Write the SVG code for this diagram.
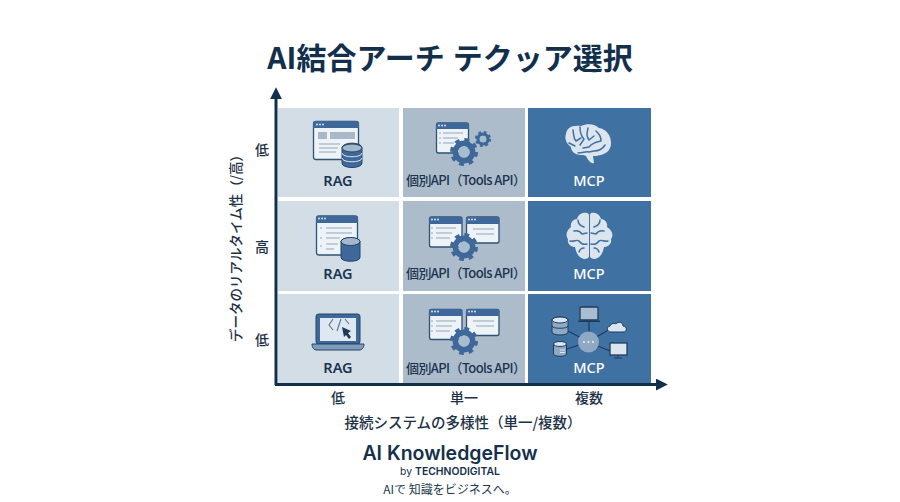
<svg xmlns="http://www.w3.org/2000/svg" xmlns:xlink="http://www.w3.org/1999/xlink" width="900" height="502" viewBox="0 0 900 502">
<style>
text{font-family:"Noto Sans","Noto Sans CJK JP",sans-serif;text-anchor:middle}
.jp{font-family:"Noto Sans CJK JP","Noto Sans",sans-serif}
.t{font-size:30px;font-weight:700;fill:#12304c}
.ax{font-size:14px;font-weight:500;fill:#1d3146}
.lab{font-size:14.5px;font-weight:600;fill:#1b3550}
.api{font-size:13px;font-weight:500;fill:#1b3550;text-anchor:start}
.mcp{font-size:14.5px;font-weight:500;fill:#fff}
.c1{fill:#d3dde6}.c2{fill:#adbccb}.c3{fill:#3f72a3}
.win{fill:#eef3f7;stroke:#2f5278;stroke-width:1.3}
.hd{fill:#3f689a}
.dot{fill:#e8eef4}
.ln{stroke:#8fa5bb;stroke-width:1.2;fill:none}
.db{fill:#3f689a;stroke:#23456b;stroke-width:1}
.dbt{fill:#a4b8cc;stroke:#23456b;stroke-width:1}
.fold{fill:none;stroke:#3f72a3;stroke-width:1.5;stroke-linecap:round;stroke-linejoin:round}
.link{stroke:#1e3d5e;stroke-width:1.3;fill:none}
</style>
<defs>
<g id="gear">
<circle r="10.6" fill="none" stroke="#3f689a" stroke-width="6.8" stroke-dasharray="4.15 4.17"/>
<circle r="8.6" fill="none" stroke="#3f689a" stroke-width="5.6"/>
<circle r="5.6" fill="#a9bdd1"/>
</g>
<g id="wdots"><circle cx="3" cy="2.5" r=".9" class="dot"/><circle cx="6" cy="2.5" r=".9" class="dot"/><circle cx="9" cy="2.5" r=".9" class="dot"/></g>
<marker id="arrow" viewBox="0 0 10 10" refX="1" refY="5" markerWidth="4" markerHeight="4" orient="auto"><path d="M0 0L10 5L0 10Z" fill="#12304c"/></marker>
</defs>
<rect width="900" height="502" fill="#fff"/>
<text class="t jp" x="450" y="69">AI結合アーチ<tspan dx="8">テクッア選択</tspan></text>

<g id="grid">
<rect class="c1" x="278" y="108" width="121" height="89"/><rect class="c2" x="403" y="108" width="122" height="89"/><rect class="c3" x="528" y="108" width="123" height="89"/>
<rect class="c1" x="278" y="201" width="121" height="90"/><rect class="c2" x="403" y="201" width="122" height="90"/><rect class="c3" x="528" y="201" width="123" height="90"/>
<rect class="c1" x="278" y="294" width="121" height="90"/><rect class="c2" x="403" y="294" width="122" height="90"/><rect class="c3" x="528" y="294" width="123" height="90"/>
</g>

<g id="connectors">
<line x1="276" y1="385" x2="276" y2="98" stroke="#12304c" stroke-width="3" marker-end="url(#arrow)"/>
<line x1="275" y1="384.5" x2="657" y2="384.5" stroke="#12304c" stroke-width="3" marker-end="url(#arrow)"/>
</g>

<g id="node-rag-top">
<rect class="win" x="313.5" y="121.5" width="45" height="38" rx="2.5"/>
<path class="hd" d="M313 124a3 3 0 0 1 3-3h40a3 3 0 0 1 3 3v4h-46z"/>
<use xlink:href="#wdots" href="#wdots" x="314" y="122"/>
<rect x="318" y="132" width="9" height="7" fill="#a9b8c8"/><rect x="330" y="132" width="25" height="7" fill="#a9b8c8"/>
<path class="ln" d="M319 144H340M319 148H338M319 152H336"/>
<path class="db" d="M342 148c0-6.500 20-6.500 20 0v15c0 6-20 6-20 0z"/>
<ellipse class="dbt" cx="352" cy="148" rx="10" ry="4"/>
<path d="M342 153c0 5 20 5 20 0M342 158c0 5 20 5 20 0" fill="none" stroke="#dce5ee" stroke-width="1"/>
<text class="lab" x="338" y="186">RAG</text>
</g>

<g id="node-api-top">
<rect class="win" x="436.500" y="123" width="32" height="30" rx="2"/>
<path class="hd" d="M436 125a2 2 0 0 1 2-2h29a2 2 0 0 1 2 2v4h-33z"/>
<use xlink:href="#wdots" href="#wdots" x="436" y="123"/>
<path class="ln" d="M443 133H463M443 138H458M443 143H454M439 133h2M439 138h2M439 143h2"/>
<use xlink:href="#gear" href="#gear" transform="translate(464 152)"/>
<use xlink:href="#gear" href="#gear" transform="translate(483 139) scale(.58)"/>
<text class="api jp" x="406" y="185" textLength="120">個別API（Tools API）</text>
</g>

<g id="node-mcp-top">
<path fill="#dce5ee" d="M581 126c7-3 14-2 18 2 7 1 12 7 12 15 0 7-4 10-10 12-4 1-6 1-8 1l1 7c-3 1-5-2-7-5-1-3-3-3-6-3-5 0-10-3-10-8-4-3-7-8-5-13 1-6 5-9 15-8z"/>
<path class="fold" d="M573 130c1 5 0 8 3 11l5-3M580 127c0 5 1 9 4 12l-4 6M588 128c-1 5-2 8 1 12l5-4M596 131c3 3 5 5 5 10-5 1-9 2-12 6l-6 1M569 143l6 3M578 153c5 0 8-2 11-1l5-1c4 0 8-1 11-6"/>
<text class="mcp" x="589" y="186">MCP</text>
</g>

<g id="node-rag-mid">
<rect class="win" x="316.500" y="216" width="41" height="39" rx="2.500"/>
<path class="hd" d="M316 219a3 3 0 0 1 3-3h36a3 3 0 0 1 3 3v4h-42z"/>
<use xlink:href="#wdots" href="#wdots" x="316" y="216"/>
<path class="ln" d="M326 228H352M326 233H352M326 238H340M326 244H338M326 249H334M320 228h2M320 238h2M320 246h2"/>
<path d="M341 241.500c0-5 19-5 19 0v16c0 5-19 5-19 0z" fill="#3f689a" stroke="#23456b"/>
<ellipse class="dbt" cx="350.500" cy="241.500" rx="9.500" ry="4"/>
<text class="lab" x="338" y="279">RAG</text>
</g>

<g id="node-api-mid">
<rect class="win" x="429.500" y="217" width="32.500" height="30" rx="2"/>
<path class="hd" d="M429 219a2 2 0 0 1 2-2h29a2 2 0 0 1 2 2v5h-33z"/>
<use xlink:href="#wdots" href="#wdots" x="429" y="217"/>
<path class="ln" d="M436 228H456M436 233H452M436 238H450M431 228h2M431 233h2M431 238h2"/>
<rect class="win" x="466.500" y="217" width="32.500" height="26" rx="2"/>
<path class="hd" d="M466 219a2 2 0 0 1 2-2h29a2 2 0 0 1 2 2v5h-33z"/>
<use xlink:href="#wdots" href="#wdots" x="466" y="217"/>
<path class="ln" d="M473 229H494M476 234H494"/>
<use xlink:href="#gear" href="#gear" transform="translate(464 247)"/>
<text class="api jp" x="406" y="278" textLength="120">個別API（Tools API）</text>
</g>

<g id="node-mcp-mid">
<path fill="#dce5ee" d="M587 213c-5-1-9 2-10 6-4 0-7 4-6 8-4 3-6 8-3 12-1 5 3 8 7 8 1 6 4 11 9 12 3 0 5-1 5-3v-41c0-1-1-2-2-2z"/>
<path fill="#dce5ee" d="M591 213c5-1 9 2 10 6 4 0 7 4 6 8 5 3 7 8 4 12 1 5-3 8-7 8-1 6-4 11-9 12-3 0-5-1-5-3v-41c0-1 1-2 1-2z"/>
<path class="fold" d="M574 231c4-1 6 0 8 3l5-1M578 220c0 4 3 6 6 7M570 241c4 1 7-2 9 0 2 3 4 4 8 3M579 252c1-3 3-4 5-4M604 231c-4-1-6 0-8 3l-5-1M600 220c0 4-3 6-6 7M608 241c-4 1-7-2-9 0-2 3-4 4-8 3M599 252c-1-3-3-4-5-4"/>
<text class="mcp" x="589" y="279">MCP</text>
</g>

<g id="node-rag-low">
<rect x="316" y="314" width="44" height="30" rx="2.500" fill="#3f689a" stroke="#23456b"/>
<rect x="320" y="318" width="36" height="23" fill="#dfe8f0"/>
<path d="M312 344h52c0 4-2 6-5 6h-42c-3 0-5-2-5-6z" fill="#7f9cb9" stroke="#23456b"/>
<path d="M333 319l-4 6 4 5M337 331l4-12M345 319l4 5" fill="none" stroke="#5d7c9c" stroke-width="1.200"/>
<path d="M342 327l9 4-3 2 3 4-2 2-3-4-2 2z" fill="#1d3a59"/>
<text class="lab" x="338" y="373">RAG</text>
</g>

<g id="node-api-low">
<rect class="win" x="429.500" y="309.500" width="32.500" height="30" rx="2"/>
<path class="hd" d="M429 311a2 2 0 0 1 2-2h29a2 2 0 0 1 2 2v5h-33z"/>
<use xlink:href="#wdots" href="#wdots" x="429" y="309"/>
<path class="ln" d="M436 321H456M436 326H452M436 331H450M431 321h2M431 326h2M431 331h2"/>
<rect class="win" x="466.500" y="309.500" width="32.500" height="26" rx="2"/>
<path class="hd" d="M466 311a2 2 0 0 1 2-2h29a2 2 0 0 1 2 2v5h-33z"/>
<use xlink:href="#wdots" href="#wdots" x="466" y="309"/>
<path class="ln" d="M473 321H494M476 326H494"/>
<use xlink:href="#gear" href="#gear" transform="translate(464 341)"/>
<text class="api jp" x="406" y="373" textLength="120">個別API（Tools API）</text>
</g>

<g id="node-mcp-low">
<path class="link" d="M589 322V342L568 331M588 342L567 349M588 342L610 329M588 342L610 351"/>
<circle cx="588.500" cy="342" r="10.500" fill="#8fa9c4"/>
<circle cx="584" cy="342" r="1.100" fill="#e8eef4"/><circle cx="588.500" cy="342" r="1.100" fill="#e8eef4"/><circle cx="593" cy="342" r="1.100" fill="#e8eef4"/>
<rect x="580" y="307" width="18" height="13" rx="1" fill="#a9bdd1" stroke="#1e3d5e" stroke-width="1.300"/>
<path d="M578 320.500h22v1.500h-22z" fill="#1e3d5e"/>
<path d="M552 320c0-4 16-4 16 0v12c0 4-16 4-16 0z" fill="#8fa9c4" stroke="#1e3d5e"/>
<ellipse cx="560" cy="320" rx="8" ry="3" fill="#dce5ee" stroke="#1e3d5e"/>
<path d="M552 326c0 3 16 3 16 0" fill="none" stroke="#1e3d5e"/>
<path d="M553.500 344c0-3 13-3 13 0v10c0 3-13 3-13 0z" fill="#8fa9c4" stroke="#1e3d5e"/>
<ellipse cx="560" cy="344" rx="6.500" ry="2.500" fill="#dce5ee" stroke="#1e3d5e"/>
<path d="M560 350h5M560 352.500h5" stroke="#dce5ee"/>
<path d="M611 332c-4 0-5-5-1-6 1-3 5-3 6-2 2-3 7-2 7 2 4 0 5 6 0 6z" fill="#dce5ee" stroke="#1e3d5e" stroke-width="1"/>
<rect x="610" y="343" width="17" height="12" fill="#dce5ee" stroke="#1e3d5e" stroke-width="1.300"/>
<path d="M618 355v2M614 358h8" stroke="#1e3d5e"/>
<text class="mcp" x="589" y="373">MCP</text>
</g>

<g id="axis-labels">
<text class="ax jp" transform="translate(241 245) rotate(-90)" style="font-size:13.500px">データのリアルタイム性（/高）</text>
<text class="ax jp" x="262" y="155">低</text>
<text class="ax jp" x="262" y="252">高</text>
<text class="ax jp" x="262" y="345">低</text>
<text class="ax jp" x="338" y="403">低</text>
<text class="ax jp" x="464" y="403">単一</text>
<text class="ax jp" x="589" y="403">複数</text>
<text class="ax jp" x="463" y="428" style="font-size:14.500px">接続システムの多様性（単一/複数）</text>
</g>

<g id="brand">
<text x="450" y="460" style="font-family:Inter,sans-serif;font-size:19.500px;font-weight:600;fill:#15304a">AI KnowledgeFlow</text>
<text x="450" y="475" style="font-family:Inter,sans-serif;font-size:10.400px;fill:#15304a">by <tspan font-weight="600">TECHNODIGITAL</tspan></text>
<text class="jp" x="450" y="494" style="font-size:12px;fill:#22384e">AIで 知識をビジネスへ。</text>
</g>
</svg>
